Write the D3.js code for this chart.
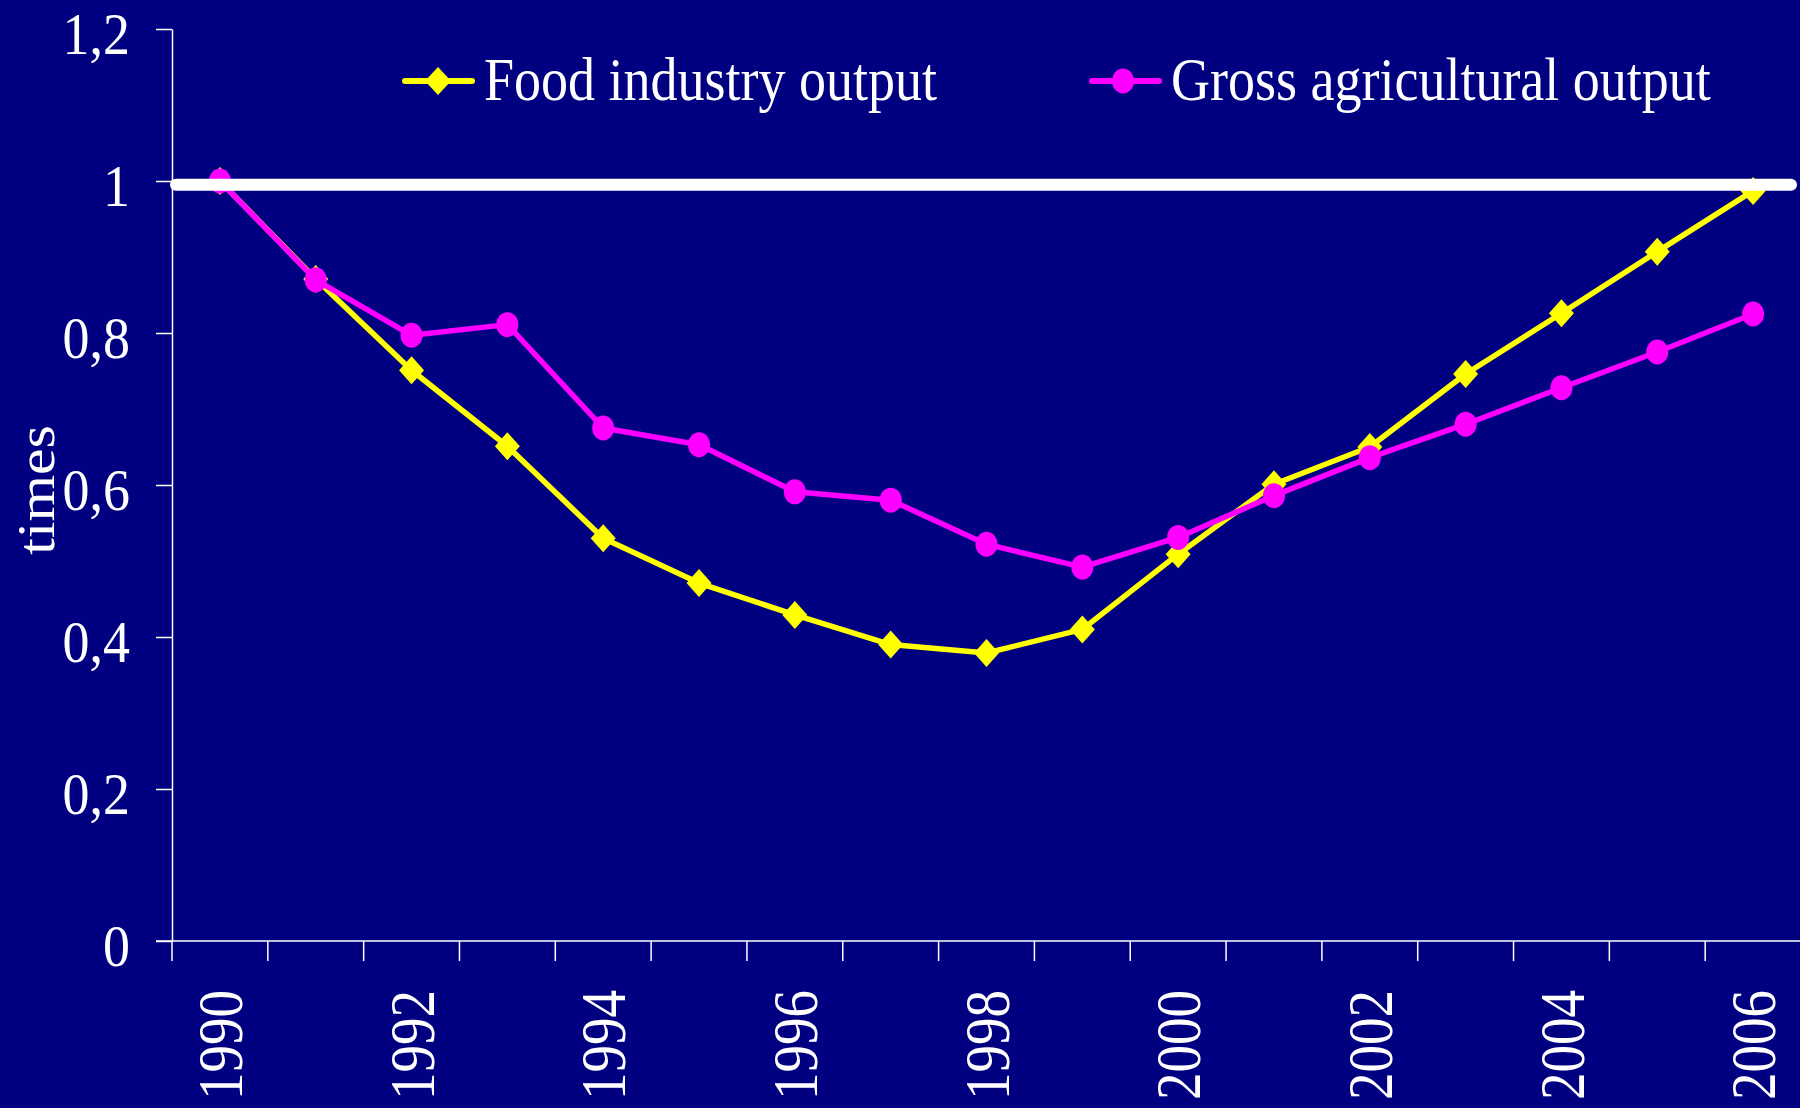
<!DOCTYPE html>
<html>
<head>
<meta charset="utf-8">
<script src="https://cdn.jsdelivr.net/npm/d3@7"></script>
<style>
  html, body { margin: 0; padding: 0; background: #000080; }
  svg { display: block; }
  text { font-family: "Liberation Serif", "Times New Roman", serif; fill: #fff; }
</style>
</head>
<body>
<svg id="chart" width="1800" height="1108"></svg>
<script>
var years = [1990, 1991, 1992, 1993, 1994, 1995, 1996, 1997, 1998, 1999, 2000, 2001, 2002, 2003, 2004, 2005, 2006];
var foodOutput = [1.0, 0.871, 0.751, 0.651, 0.530, 0.471, 0.429, 0.390, 0.379, 0.410, 0.509, 0.601, 0.650, 0.746, 0.826, 0.907, 0.987];
var grossOutput = [1.0, 0.870, 0.797, 0.811, 0.675, 0.653, 0.591, 0.580, 0.522, 0.492, 0.531, 0.586, 0.636, 0.680, 0.728, 0.775, 0.825];
var yTicks = [0, 0.2, 0.4, 0.6, 0.8, 1, 1.2];
var xLabelYears = [1990, 1992, 1994, 1996, 1998, 2000, 2002, 2004, 2006];
var refLevel = [0.995];
var seriesNames = ["Food industry output", "Gross agricultural output"];

var svg = d3.select("#chart"),
    width = +svg.attr("width"),
    height = +svg.attr("height");

var stretch = 1.13; // picture is a bit taller than wide

svg.append("rect").attr("width", width).attr("height", height).attr("fill", "#000080");

var x = d3.scaleBand().domain(years).range([172, 1801]).padding(0);
var y = d3.scaleLinear().domain([0, 1.2]).range([941, 29]);
var cx = function(d, i) { return x(years[i]) + x.bandwidth() / 2; };

// y axis
var yAxis = svg.append("g")
    .attr("transform", "translate(" + x.range()[0] + ",0)")
    .call(d3.axisLeft(y).tickValues(yTicks).tickSize(16).tickSizeOuter(0).tickFormat(""));
yAxis.selectAll("path, line").attr("stroke", "#fff").attr("stroke-width", 1.5);

svg.append("g").selectAll("text")
    .data(yTicks)
    .enter().append("text")
    .attr("transform", function(d) { return "translate(130," + (y(d) + 25) + ") scale(1,1.11)"; })
    .attr("text-anchor", "end")
    .attr("font-size", 54)
    .text(function(d) { return String(d).replace(".", ","); });

// x axis
svg.append("line")
    .attr("x1", x.range()[0] - 16).attr("x2", width)
    .attr("y1", y(0)).attr("y2", y(0))
    .attr("stroke", "#fff").attr("stroke-width", 1.5);

var xTickPos = years.map(function(d) { return x(d); }).concat([x.range()[1]]);
svg.append("g").selectAll("line")
    .data(xTickPos)
    .enter().append("line")
    .attr("x1", function(d) { return d; }).attr("x2", function(d) { return d; })
    .attr("y1", y(0)).attr("y2", y(0) + 20)
    .attr("stroke", "#fff").attr("stroke-width", 1.5);

svg.append("g").selectAll("text")
    .data(xLabelYears)
    .enter().append("text")
    .attr("transform", function(d) { return "translate(" + (x(d) + x.bandwidth() / 2) + ",990) rotate(-90) scale(1,1.15)"; })
    .attr("text-anchor", "end")
    .attr("dy", "0.35em")
    .attr("font-size", 55)
    .text(function(d) { return d; });

// axis title
svg.append("text")
    .attr("transform", "translate(54," + 490 + ") scale(1," + stretch + ") rotate(-90)")
    .attr("text-anchor", "middle")
    .attr("font-size", 53)
    .text("times");

var line = d3.line().x(cx).y(function(d) { return y(d); });

function diamond(w, h) {
    return "M0," + (-h) + "L" + w + ",0L0," + h + "L" + (-w) + ",0Z";
}

// food industry (yellow diamonds)
svg.append("path")
    .datum(foodOutput)
    .attr("d", line)
    .attr("fill", "none")
    .attr("stroke", "#ffff00")
    .attr("stroke-width", 5.5)
    .attr("stroke-linejoin", "round");

svg.append("g").selectAll("path")
    .data(foodOutput)
    .enter().append("path")
    .attr("d", diamond(12.5, 14))
    .attr("transform", function(d, i) { return "translate(" + cx(d, i) + "," + y(d) + ")"; })
    .attr("fill", "#ffff00");

// gross agricultural (magenta circles)
svg.append("path")
    .datum(grossOutput)
    .attr("d", line)
    .attr("fill", "none")
    .attr("stroke", "#ff00ff")
    .attr("stroke-width", 5.5)
    .attr("stroke-linejoin", "round");

svg.append("g").selectAll("ellipse")
    .data(grossOutput)
    .enter().append("ellipse")
    .attr("cx", cx)
    .attr("cy", function(d) { return y(d); })
    .attr("rx", 11)
    .attr("ry", 12.5)
    .attr("fill", "#ff00ff");

// reference line at 1
svg.append("g").selectAll("line")
    .data(refLevel)
    .enter().append("line")
    .attr("x1", x.range()[0] + 4).attr("x2", x.range()[1] - 10)
    .attr("y1", function(d) { return y(d); }).attr("y2", function(d) { return y(d); })
    .attr("stroke", "#fff")
    .attr("stroke-width", 12)
    .attr("stroke-linecap", "round");

// legend
var legend = svg.append("g");
var legendX = [405, 1092];
var legendY = 81;

legend.selectAll("line")
    .data(seriesNames)
    .enter().append("line")
    .attr("x1", function(d, i) { return legendX[i]; })
    .attr("x2", function(d, i) { return legendX[i] + 67; })
    .attr("y1", legendY).attr("y2", legendY)
    .attr("stroke", function(d, i) { return i == 0 ? "#ffff00" : "#ff00ff"; })
    .attr("stroke-width", 6)
    .attr("stroke-linecap", "round");

legend.append("path")
    .attr("d", diamond(13, 14))
    .attr("transform", "translate(" + (legendX[0] + 33) + "," + legendY + ")")
    .attr("fill", "#ffff00");

legend.append("ellipse")
    .attr("cx", legendX[1] + 31).attr("cy", legendY)
    .attr("rx", 11).attr("ry", 12.5)
    .attr("fill", "#ff00ff");

legend.selectAll("text")
    .data(seriesNames)
    .enter().append("text")
    .attr("transform", function(d, i) { return "translate(" + (legendX[i] + 79) + ",100) scale(1," + stretch + ")"; })
    .attr("font-size", 54)
    .text(function(d) { return d; });
</script>
</body>
</html>
